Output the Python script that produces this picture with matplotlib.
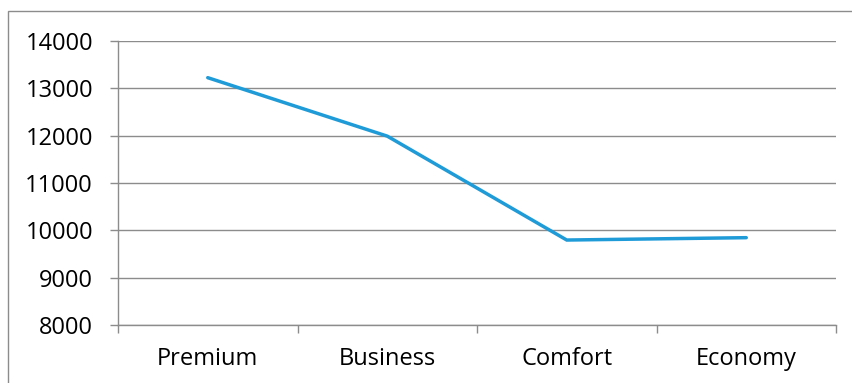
import matplotlib
matplotlib.use("Agg")
import matplotlib.pyplot as plt
from matplotlib.patches import Rectangle
import numpy as np

# data
categories = ["Premium", "Business", "Comfort", "Economy"]
values = [13225, 11990, 9795, 9845]
y_ticks = [8000, 9000, 10000, 11000, 12000, 13000, 14000]

plt.rcParams['font.family'] = ['Open Sans', 'DejaVu Sans']

W, H = 852, 383
fig = plt.figure(figsize=(W / 100, H / 100), dpi=100)
ax = fig.add_axes([118 / W, 1 - 325 / H, (836 - 118) / W, (325 - 41) / H])

# outer chart border (only top and left visible, rest cropped)
fig.patches.append(Rectangle((8 / W, -0.2), 1.5, 1.2 - 11 / H,
                             transform=fig.transFigure, fill=False,
                             edgecolor="#8c8c8c", linewidth=1.0))

x = np.arange(len(categories))
ax.plot(x, values, color="#1f9bd8", linewidth=2.5, solid_capstyle="round",
        solid_joinstyle="miter", zorder=3)

ax.set_xlim(-0.5, len(categories) - 0.5)
ax.set_ylim(y_ticks[0], y_ticks[-1])
ax.set_yticks(y_ticks)
ax.set_xticks(x)
ax.set_xticklabels(categories)
ax.set_xticks(np.arange(-0.5, len(categories), 1), minor=True)

ax.grid(axis="y", color="#8c8c8c", linewidth=1.0, zorder=0)
for side in ["top", "right"]:
    ax.spines[side].set_visible(False)
for side in ["left", "bottom"]:
    ax.spines[side].set_color("#8c8c8c")
    ax.spines[side].set_linewidth(1.0)

ax.tick_params(axis="y", length=6, width=1, color="#8c8c8c", pad=12,
               labelsize=17, labelcolor="black")
ax.tick_params(axis="x", which="major", length=0, pad=16, labelsize=17,
               labelcolor="black")
ax.tick_params(axis="x", which="minor", length=6, width=1, color="#8c8c8c")

fig.savefig("out.png", dpi=100)
